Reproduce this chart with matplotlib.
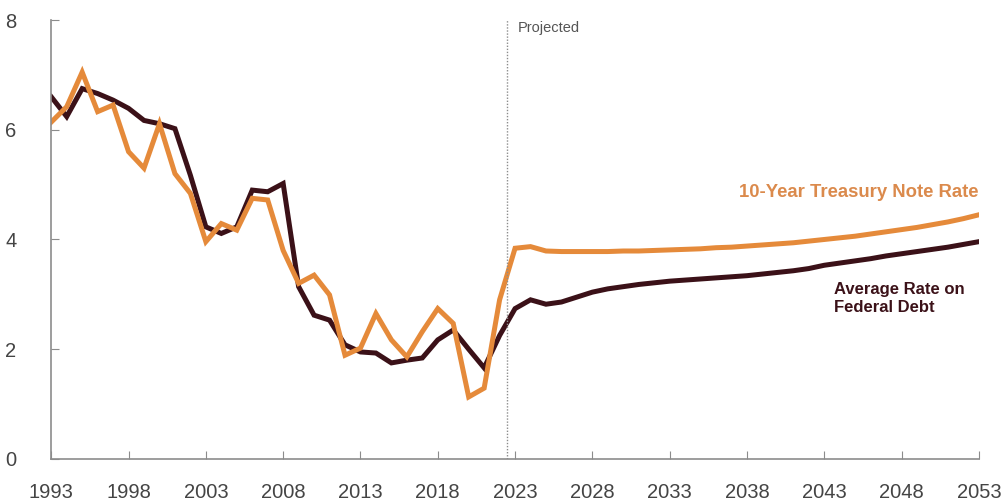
#### Interest rates: 10-year Treasury vs average rate on federal debt

import numpy as np
import matplotlib
matplotlib.use('Agg')
import matplotlib.pyplot as plt

plt.rcParams['font.family'] = ['Liberation Sans', 'DejaVu Sans']

# Data
# - Years
years = np.arange(1993, 2054)

# - 10-Year Treasury note rate (percent)
treasury = [6.14, 6.42, 7.05, 6.33, 6.45, 5.60, 5.30, 6.11, 5.20, 4.84,
            3.96, 4.29, 4.17, 4.75, 4.72, 3.80, 3.20, 3.35, 2.99, 1.89,
            2.02, 2.65, 2.17, 1.86, 2.32, 2.74, 2.47, 1.13, 1.29, 2.90,
            3.84, 3.87, 3.79, 3.78, 3.78, 3.78, 3.78, 3.79, 3.79, 3.80,
            3.81, 3.82, 3.83, 3.85, 3.86, 3.88, 3.90, 3.92, 3.94, 3.97,
            4.00, 4.03, 4.06, 4.10, 4.14, 4.18, 4.22, 4.27, 4.32, 4.38,
            4.45]

# - Average rate on federal debt (percent)
avg_debt = [6.60, 6.24, 6.75, 6.66, 6.54, 6.39, 6.17, 6.11, 6.02, 5.17,
            4.23, 4.11, 4.23, 4.90, 4.87, 5.02, 3.14, 2.62, 2.53, 2.08,
            1.95, 1.93, 1.75, 1.80, 1.84, 2.17, 2.35, 2.00, 1.66, 2.25,
            2.74, 2.90, 2.82, 2.86, 2.95, 3.04, 3.10, 3.14, 3.18, 3.21,
            3.24, 3.26, 3.28, 3.30, 3.32, 3.34, 3.37, 3.40, 3.43, 3.47,
            3.53, 3.57, 3.61, 3.65, 3.70, 3.74, 3.78, 3.82, 3.86, 3.91,
            3.96]

projection_start = 2022.5
x_ticks = np.arange(1993, 2054, 5)
y_ticks = [0, 2, 4, 6, 8]

# Colors
color_tsy = '#E58A3A'
color_debt = '#3B1118'
color_axis = '#8C8C8C'

# Plot
fig = plt.figure(figsize=(10.05, 5.01), dpi=100)
ax = fig.add_axes([0.051, 0.084, 0.923, 0.876])

ax.plot(years, avg_debt, color=color_debt, linewidth=3.6, solid_joinstyle='miter')
ax.plot(years, treasury, color=color_tsy, linewidth=3.6, solid_joinstyle='miter')

# - Projection divider
ax.axvline(projection_start, color=color_axis, linestyle=(0, (1, 1.2)), linewidth=1)
ax.text(2023.2, 7.85, 'Projected', color='#555555', fontsize=10.5, ha='left', va='center')

# - Series labels
ax.text(2053, 4.85, '10-Year Treasury Note Rate', color='#DB8A4C', fontsize=13.3,
        fontweight='bold', ha='right', va='center')
ax.text(2043.6, 2.93, 'Average Rate on\nFederal Debt', color=color_debt, fontsize=12,
        fontweight='bold', ha='left', va='center', linespacing=1.25)

# - Axes
ax.set_xlim(1993, 2053)
ax.set_ylim(0, 8)
ax.set_xticks(x_ticks)
ax.set_yticks(y_ticks)
ax.tick_params(direction='in', length=6, color=color_axis, labelcolor='#444444',
               labelsize=14.5)
ax.tick_params(axis='x', pad=17)
ax.tick_params(axis='y', pad=29)
for label in ax.get_yticklabels():
    label.set_horizontalalignment('center')
for side in ['top', 'right']:
    ax.spines[side].set_visible(False)
for side in ['left', 'bottom']:
    ax.spines[side].set_color(color_axis)
    ax.spines[side].set_linewidth(1.2)

fig.savefig('out.png', dpi=100)
